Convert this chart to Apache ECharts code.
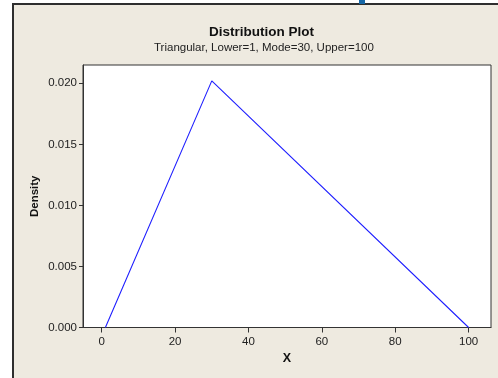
<!DOCTYPE html>
<html>
<head>
<meta charset="utf-8">
<script src="https://cdn.jsdelivr.net/npm/echarts@6/dist/echarts.min.js"></script>
<style>
  html, body { margin: 0; padding: 0; background: #fff; width: 498px; height: 378px; overflow: hidden; }
  #bg { position: absolute; left: 12px; top: 3px; width: 500px; height: 390px; background: #EEEAE0;
        border-left: 2px solid #2e2e2e; border-top: 2px solid #2e2e2e; }
  #tab { position: absolute; left: 359px; top: 0; width: 6px; height: 4px; background: #1667a6; }
  #chart { position: absolute; left: 0; top: 0; width: 498px; height: 378px; }
</style>
</head>
<body>
<div id="bg"></div>
<div id="tab"></div>
<div id="chart"></div>
<script>
// Data
const xValues = [1, 30, 100];
const densityValues = [0, 0.020202, 0];
const xTicks = [0, 20, 40, 60, 80, 100];
const yTicks = [0, 0.005, 0.010, 0.015, 0.020];
const titleText = 'Distribution Plot';
const subtitleText = 'Triangular, Lower=1, Mode=30, Upper=100';
const xName = 'X';
const yName = 'Density';

const chart = echarts.init(document.getElementById('chart'), null, { renderer: 'canvas' });
const font = 'Arial, "Liberation Sans", sans-serif';
const axisColor = '#333';

chart.setOption({
  backgroundColor: 'transparent',
  animation: false,
  graphic: [
    { type: 'text', left: 264 - 55, top: 25, style: { text: titleText, font: 'bold 13.5px ' + font, fill: '#111' } },
    { type: 'text', left: 154, top: 42, style: { text: subtitleText, font: '11.5px ' + font, fill: '#222' } }
  ],
  grid: {
    left: 83, right: 7, top: 65, bottom: 50.5,
    show: true, backgroundColor: '#fff', borderColor: axisColor, borderWidth: 1
  },
  xAxis: {
    type: 'value', min: -5.1, max: 106.1,
    name: xName, nameLocation: 'middle', nameGap: 25, nameMoveOverlap: false,
    nameTextStyle: { fontFamily: font, fontWeight: 'bold', fontSize: 12.5, color: '#111' },
    axisLine: { show: true, onZero: false, lineStyle: { color: axisColor } },
    axisTick: { show: true, length: 5, lineStyle: { color: axisColor }, customValues: xTicks },
    axisLabel: { show: true, margin: 8, fontFamily: font, fontSize: 11.5, color: '#222', customValues: xTicks },
    splitLine: { show: false }
  },
  yAxis: {
    type: 'value', min: 0, max: 0.0215,
    name: yName, nameLocation: 'middle', nameGap: 42, nameRotate: 90, nameMoveOverlap: false,
    nameTextStyle: { fontFamily: font, fontWeight: 'bold', fontSize: 11.5, color: '#111' },
    axisLine: { show: true, onZero: false, lineStyle: { color: axisColor } },
    axisTick: { show: true, length: 4, lineStyle: { color: axisColor }, customValues: yTicks },
    axisLabel: { show: true, margin: 6, fontFamily: font, fontSize: 11.5, color: '#222',
                 customValues: yTicks, formatter: v => v.toFixed(3) },
    splitLine: { show: false }
  },
  series: [{
    type: 'line',
    data: xValues.map((x, i) => [x, densityValues[i]]),
    symbol: 'none',
    lineStyle: { color: '#2020ff', width: 1.1 },
    clip: true
  }]
});
</script>
</body>
</html>
